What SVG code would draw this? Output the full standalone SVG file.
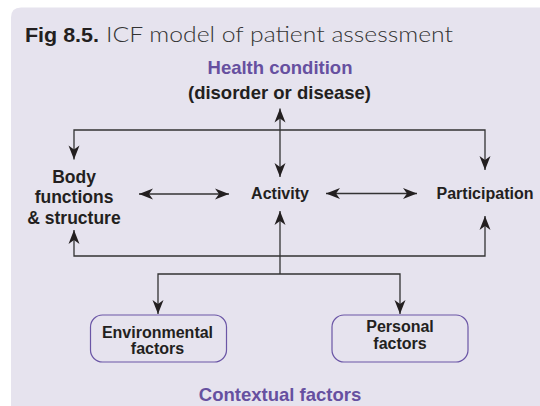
<svg xmlns="http://www.w3.org/2000/svg" width="540" height="406" viewBox="0 0 540 406">
<style>
.t{font-family:"Liberation Sans",Arial,sans-serif;font-weight:bold;fill:#231F20;text-anchor:middle}
.p{fill:#6650A0}
.ln{fill:none;stroke:#333;stroke-width:1.3;marker-start:url(#ah);marker-end:url(#ah)}
.box{fill:none;stroke:#6B56A6;stroke-width:1.2}
</style>
<defs>
<marker id="ah" markerUnits="userSpaceOnUse" markerWidth="15" markerHeight="12" refX="14" refY="5.5" orient="auto-start-reverse" overflow="visible">
<path d="M0,0 L14,5.5 L0,11 L4,5.5 Z" fill="#231F20"/>
</marker>
</defs>
<rect width="540" height="406" fill="#fff"/>
<path d="M11,17.5 Q11,7.5 21,7.5 H540 V406 H11 Z" fill="#E6E3EE"/>
<text x="25" y="41.5" font-size="20" fill="#231F20" font-family="'Liberation Sans',Arial,sans-serif"><tspan font-weight="bold" textLength="74" lengthAdjust="spacingAndGlyphs">Fig 8.5.</tspan><tspan x="106" font-family="Lato,'Open Sans',sans-serif" font-weight="300" font-size="21" fill="#333" textLength="347" lengthAdjust="spacingAndGlyphs">ICF model of patient assessment</tspan></text>
<g id="connectors">
<path class="ln" d="M74,159.5 V130 H485 V170"/>
<path class="ln" d="M280,108.5 V177"/>
<path class="ln" d="M74,230 V256 H485 V216"/>
<path class="ln" d="M280,211 V274" style="marker-end:none"/>
<path class="ln" d="M158,314 V274 H400 V314"/>
<path class="ln" d="M139,194 H229"/>
<path class="ln" d="M326,193.5 H417"/>
</g>
<g id="health">
<text class="t p" x="280" y="74.3" font-size="18.5">Health condition</text>
<text class="t" x="279.5" y="99" font-size="18.5">(disorder or disease)</text>
</g>
<g id="body">
<text class="t" x="74" y="182.5" font-size="17.5">Body</text>
<text class="t" x="74" y="203" font-size="17.5">functions</text>
<text class="t" x="74" y="224" font-size="17.5">&amp; structure</text>
</g>
<g id="activity">
<text class="t" x="280" y="198.5" font-size="16">Activity</text>
</g>
<g id="participation">
<text class="t" x="485" y="199.3" font-size="16">Participation</text>
</g>
<g id="environmental">
<rect class="box" x="90.5" y="315" width="136" height="47" rx="12"/>
<text class="t" x="157.5" y="337.7" font-size="16">Environmental</text>
<text class="t" x="157.5" y="354" font-size="16">factors</text>
</g>
<g id="personal">
<rect class="box" x="332" y="315" width="136" height="47" rx="12"/>
<text class="t" x="400" y="332.3" font-size="16">Personal</text>
<text class="t" x="400" y="349.3" font-size="16">factors</text>
</g>
<g id="contextual">
<text class="t p" x="280" y="400.5" font-size="18.5">Contextual factors</text>
</g>
</svg>
